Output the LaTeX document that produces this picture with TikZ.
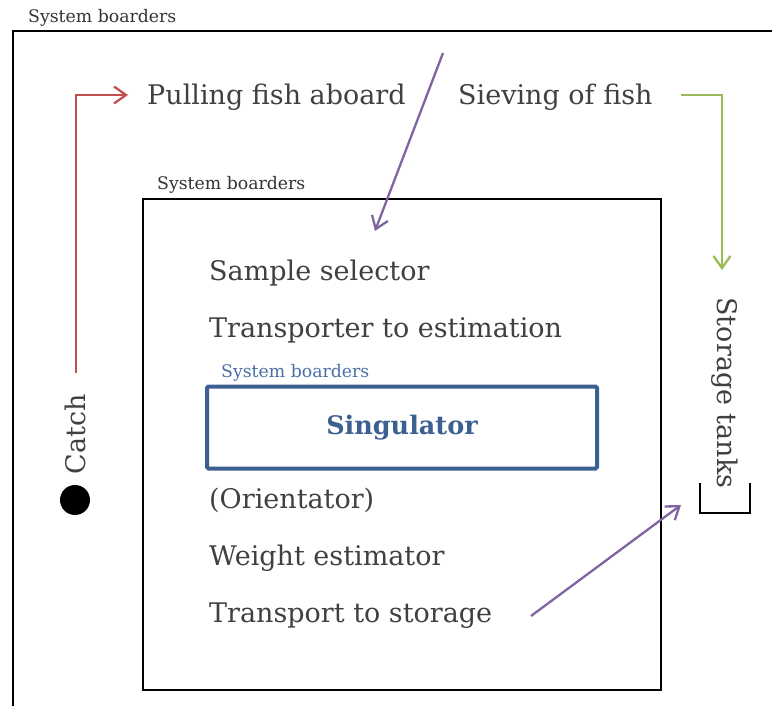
\documentclass[tikz,border=0pt]{standalone}
\usepackage{fontspec}
\setmainfont{DejaVu Serif}
\usetikzlibrary{arrows.meta}
\definecolor{txt}{HTML}{404040}
\definecolor{lbl}{HTML}{333333}
\definecolor{bluelbl}{HTML}{4A6FA5}
\definecolor{bluebox}{HTML}{3C6090}
\definecolor{redarr}{HTML}{C0504D}
\definecolor{greenarr}{HTML}{9BBB59}
\definecolor{purplearr}{HTML}{8064A2}
\tikzset{
  bigtext/.style={font=\fontsize{27}{32}\selectfont, text=txt, inner sep=0pt, anchor=base west},
  smalllabel/.style={font=\fontsize{17.3}{20}\selectfont, text=lbl, inner sep=0pt, anchor=base west},
  barb/.style={-{Straight Barb[length=12pt,width=17pt,line width=2.3pt]}, line width=2.3pt},
  frame/.style={draw=black, line width=2.4pt},
}
\begin{document}
\begin{tikzpicture}[x=1pt,y=-1pt]
\useasboundingbox (0,0) rectangle (772,706);
\clip (0,0) rectangle (772,706);
% outer system border
\draw[frame] (13,720) -- (13,31) -- (790,31);
\node[smalllabel] (lblouter) at (28,23) {System boarders};
% inner system border
\node[frame, minimum width=518pt, minimum height=491pt, anchor=north west, inner sep=0pt] (inner) at (142,198) {};
\node[smalllabel] (lblinner) at (157,190) {System boarders};
% top texts
\node[bigtext] (pull) at (147,105) {Pulling fish aboard};
\node[bigtext] (sieve) at (458,105) {Sieving of fish};
% inner texts
\node[bigtext] (sample) at (209,280) {Sample selector};
\node[bigtext] (transp) at (209,337) {Transporter to estimation};
\node[smalllabel, text=bluelbl] (lblblue) at (221,377) {System boarders};
\node[draw=bluebox, line width=4pt, rounded corners=1.5pt, minimum width=390pt, minimum height=82pt, inner sep=0pt] (sing) at (402,427.5)
  {\fontsize{25.5}{30}\selectfont\bfseries\color{bluebox}Singulator};
\node[bigtext] (orient) at (209,508) {(Orientator)};
\node[bigtext] (weight) at (209,565) {Weight estimator};
\node[bigtext] (tstore) at (209,622) {Transport to storage};
% catch
\node[font=\fontsize{27}{32}\selectfont, text=txt, inner sep=0pt, rotate=90] (catch) at (75,434) {Catch};
\fill[black] (75,500) circle (15pt);
\coordinate (catchtop) at (76,373);
% storage tanks
\node[font=\fontsize{27}{32}\selectfont, text=txt, inner sep=0pt, rotate=-90] (storage) at (725,393) {Storage tanks};
\draw[line width=2.4pt] (700,483) -- (700,513) -- (750,513) -- (750,483);
% arrows
\draw[barb, redarr] (catchtop) |- ([xshift=-19pt]pull.west |- 0,95);
\coordinate (sievestart) at (681,95);
\coordinate (sieveend) at (722,270);
\draw[barb, greenarr] (sievestart) -| (sieveend);
\coordinate (pstart) at (443,53);
\coordinate (pend) at (375,231);
\draw[barb, purplearr] (pstart) -- (pend);
\coordinate (qstart) at (531,616);
\coordinate (qend) at (681,505);
\draw[barb, purplearr] (qstart) -- (qend);
\end{tikzpicture}
\end{document}
